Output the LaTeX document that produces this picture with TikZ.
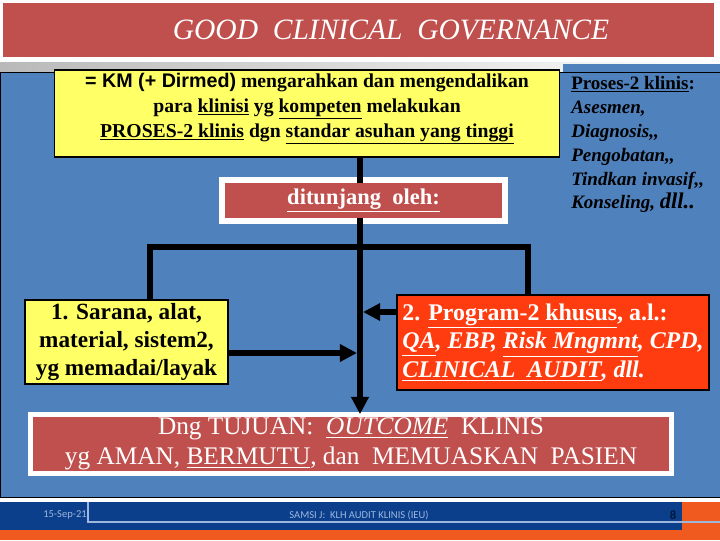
\documentclass[tikz,border=0pt]{standalone}
\usepackage{fontspec}
\setmainfont{Liberation Serif}
\newfontfamily\arialfont{Liberation Sans}
\newfontfamily\footfont{Carlito}
\usetikzlibrary{arrows.meta, positioning}

\definecolor{slideblue}{HTML}{4F81BD}
\definecolor{titlered}{HTML}{C0504D}
\definecolor{noteyellow}{HTML}{FFFF66}
\definecolor{progred}{HTML}{FF3C0F}
\definecolor{footblue}{HTML}{0B3F8C}
\definecolor{footorange}{HTML}{F05A1E}
\definecolor{foottext}{HTML}{9DB7DD}

\begin{document}
\begin{tikzpicture}[x=0.025cm, y=-0.025cm,
  bar/.style={line width=0.15cm, black},
  arr/.style={bar, -{Triangle[length=0.43cm, width=0.42cm]}},
  notebox/.style={rectangle, draw=black, line width=0.8pt, fill=noteyellow,
                  align=center, inner sep=0pt, outer sep=0pt},
  framebox/.style={rectangle, draw=white, fill=titlered, text=white,
                   align=center, inner sep=0pt, outer sep=0pt},
  footnote/.style={font=\footfont\fontsize{7.5}{9}\selectfont, text=foottext}
]
\useasboundingbox (0,0) rectangle (720,540);

% Slide background
\fill[white] (0,0) rectangle (720,540);
\fill[titlered] (3,3) rectangle (714,57);
\shade[left color=gray!55, right color=white] (0,62) rectangle (720,72);
\fill[slideblue] (563,64) rectangle (720,72);
\draw[fill=slideblue, line width=0.6pt] (0,72) rectangle (720,497);

% Footer
\fill[footorange] (0,530) rectangle (720,540);
\fill[footorange] (682,502) rectangle (720,530);
\fill[footblue] (0,502) rectangle (682,530);
\draw[foottext, line width=0.8pt] (88,502) -- (88,522) -- (720,522);
\node[footnote] (date) at (65,515) {15-Sep-21};
\node[footnote] (source) at (359,515) {SAMSI J:\ \ KLH AUDIT KLINIS (IEU)};
\node[font=\footfont\bfseries\fontsize{9}{10}\selectfont, text=footblue!40!black]
  (page) at (673,515) {8};

% Title
\node[font=\itshape\fontsize{21}{24}\selectfont, text=white] (title) at (391,30)
  {GOOD\ \ CLINICAL\ \ GOVERNANCE};

% Top box and side list
\node[notebox, minimum width=12.6cm, minimum height=2.175cm, text depth=12pt,
      font=\bfseries\fontsize{14}{17.7}\selectfont] (km) at (307,113.5)
  {{\arialfont = KM (+ Dirmed)} mengarahkan dan mengendalikan\\
   para \underline{klinisi} yg \underline{kompeten} melakukan\\
   \underline{PROSES-2 klinis} dgn \underline{standar asuhan yang tinggi}};
\node[anchor=north west, inner sep=0pt, align=left,
      font=\bfseries\itshape\fontsize{13.5}{17}\selectfont] (steps) at (571,76)
  {\textup{\underline{Proses-2 klinis}:}\\
   Asesmen,\\
   Diagnosis,{},\\
   Pengobatan,{},\\
   Tindkan invasif,{},\\
   Konseling, {\fontsize{16}{17}\selectfont dll..}};

% Middle box
\node[framebox, line width=0.15cm, minimum width=7.075cm, minimum height=1.025cm,
      font=\bfseries\fontsize{16}{19}\selectfont] (tun) at (363.5,200.5)
  {\underline{ditunjang\ \ oleh:}};

% Supports
\node[notebox, minimum width=5.075cm, minimum height=2.1cm,
      font=\bfseries\fontsize{16.5}{19.8}\selectfont] (sarana) at (126.5,342)
  {1. Sarana, alat,\\ material, sistem2,\\ yg memadai/layak};
\node[notebox, fill=progred, text=white, align=left, minimum width=7.8cm,
      minimum height=2.375cm, font=\bfseries\fontsize{17}{20.5}\selectfont]
  (program) at (553,342.5)
  {2. \underline{Program-2 khusus}, a.l.:\\
   \textit{\underline{QA}, EBP, \underline{Risk Mngmnt}, CPD,}\\
   \textit{\underline{CLINICAL\ \ AUDIT}, dll.}};

% Goal
\node[framebox, line width=0.125cm, minimum width=16cm, minimum height=1.49cm,
      font=\fontsize{18}{21.3}\selectfont] (goal) at (351,444)
  {Dng TUJUAN:\ \ \underline{\textit{OUTCOME}}\ \ KLINIS\\
   yg AMAN, \underline{BERMUTU}, dan\ \ MEMUASKAN\ \ PASIEN};

% Connectors
\coordinate (hub) at (360,247);
\coordinate (hubL) at (150,247);
\coordinate (hubR) at (528,247);
\coordinate (inL) at (357,353);
\coordinate (inR) at (363,312);
\draw[bar, shorten >=-0.075cm] (km.south -| hub) -- (tun.north -| hub);
\draw[bar, shorten <=-0.075cm] (tun.south -| hub) -- (hub);
\draw[bar] (hubL |- sarana.north) -- (hubL) -- (hubR) -- (hubR |- program.north);
\draw[arr] (hub) -- (goal.north -| hub);
\draw[arr] (sarana.east |- inL) -- (inL);
\draw[arr] (program.west |- inR) -- (inR);
\end{tikzpicture}
\end{document}
